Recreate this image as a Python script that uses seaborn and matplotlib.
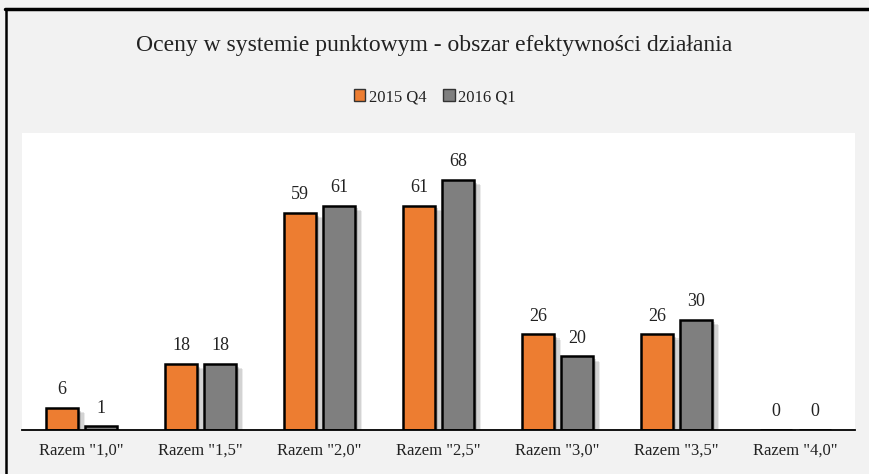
import pandas as pd
import matplotlib.pyplot as plt
import matplotlib.patheffects as pe
from matplotlib.lines import Line2D
import seaborn as sns

# data
categories = ['Razem "1,0"', 'Razem "1,5"', 'Razem "2,0"', 'Razem "2,5"',
              'Razem "3,0"', 'Razem "3,5"', 'Razem "4,0"']
q4_2015 = [6, 18, 59, 61, 26, 26, 0]
q1_2016 = [1, 18, 61, 68, 20, 30, 0]
series = ["2015 Q4", "2016 Q1"]
colors = ["#ED7D31", "#7F7F7F"]

df = pd.DataFrame({
    "cat": categories * 2,
    "val": q4_2015 + q1_2016,
    "series": [series[0]] * 7 + [series[1]] * 7,
})

sns.set_theme(style="white")
plt.rcParams["font.family"] = ["Liberation Serif", "DejaVu Serif"]

bg = "#F2F2F2"
fig = plt.figure(figsize=(8.69, 4.74), dpi=100, facecolor=bg)
ax = fig.add_axes([22 / 869, 1 - 430 / 474, 833 / 869, 297 / 474])
ax.set_facecolor("white")

sns.barplot(data=df, x="cat", y="val", hue="series", palette=colors, saturation=1,
            width=0.656, gap=0.18, edgecolor="black", linewidth=1.8,
            legend=False, ax=ax, errorbar=None)

# soft drop shadow, built from a few offset layers
shadow = [pe.SimplePatchShadow(offset=(5, -4), shadow_rgbFace="black", alpha=0.08),
          pe.SimplePatchShadow(offset=(4, -3), shadow_rgbFace="black", alpha=0.10),
          pe.SimplePatchShadow(offset=(2.5, -2), shadow_rgbFace="black", alpha=0.14),
          pe.Normal()]
for bar in ax.patches:
    bar.set_path_effects(shadow)

for cont in ax.containers:
    ax.bar_label(cont, labels=[f"{v:.0f}" for v in cont.datavalues],
                 padding=7, fontsize=13, color="#222222")

ax.set_xlim(-0.5, 6.5)
ax.set_ylim(0, 80.7)
ax.set_yticks([])
ax.set_xlabel("")
ax.set_ylabel("")
ax.tick_params(axis="x", length=0, pad=9, labelsize=12, colors="#222222")
for s in ["top", "right", "left"]:
    ax.spines[s].set_visible(False)
ax.spines["bottom"].set_color("black")
ax.spines["bottom"].set_linewidth(1.3)

fig.text(0.5, 1 - 45 / 474, "Oceny w systemie punktowym - obszar efektywności działania",
         ha="center", va="center", fontsize=17, color="#222222")

handles = [plt.Rectangle((0, 0), 1, 1, facecolor=c, edgecolor="#333333", linewidth=1) for c in colors]
fig.legend(handles, series, loc="center", bbox_to_anchor=(0.5, 1 - 97 / 474),
           ncol=2, frameon=False, fontsize=12, handlelength=0.7, handleheight=0.7,
           handletextpad=0.2, columnspacing=1.0, labelcolor="#222222")

# outer frame lines (top and left)
fig.add_artist(Line2D([5 / 869, 1], [1 - 9 / 474, 1 - 9 / 474], color="black", linewidth=2.5,
                      transform=fig.transFigure))
fig.add_artist(Line2D([6 / 869, 6 / 869], [0, 1 - 9 / 474], color="black", linewidth=1.8,
                      transform=fig.transFigure))

fig.savefig("out.png", dpi=100, facecolor=bg)
